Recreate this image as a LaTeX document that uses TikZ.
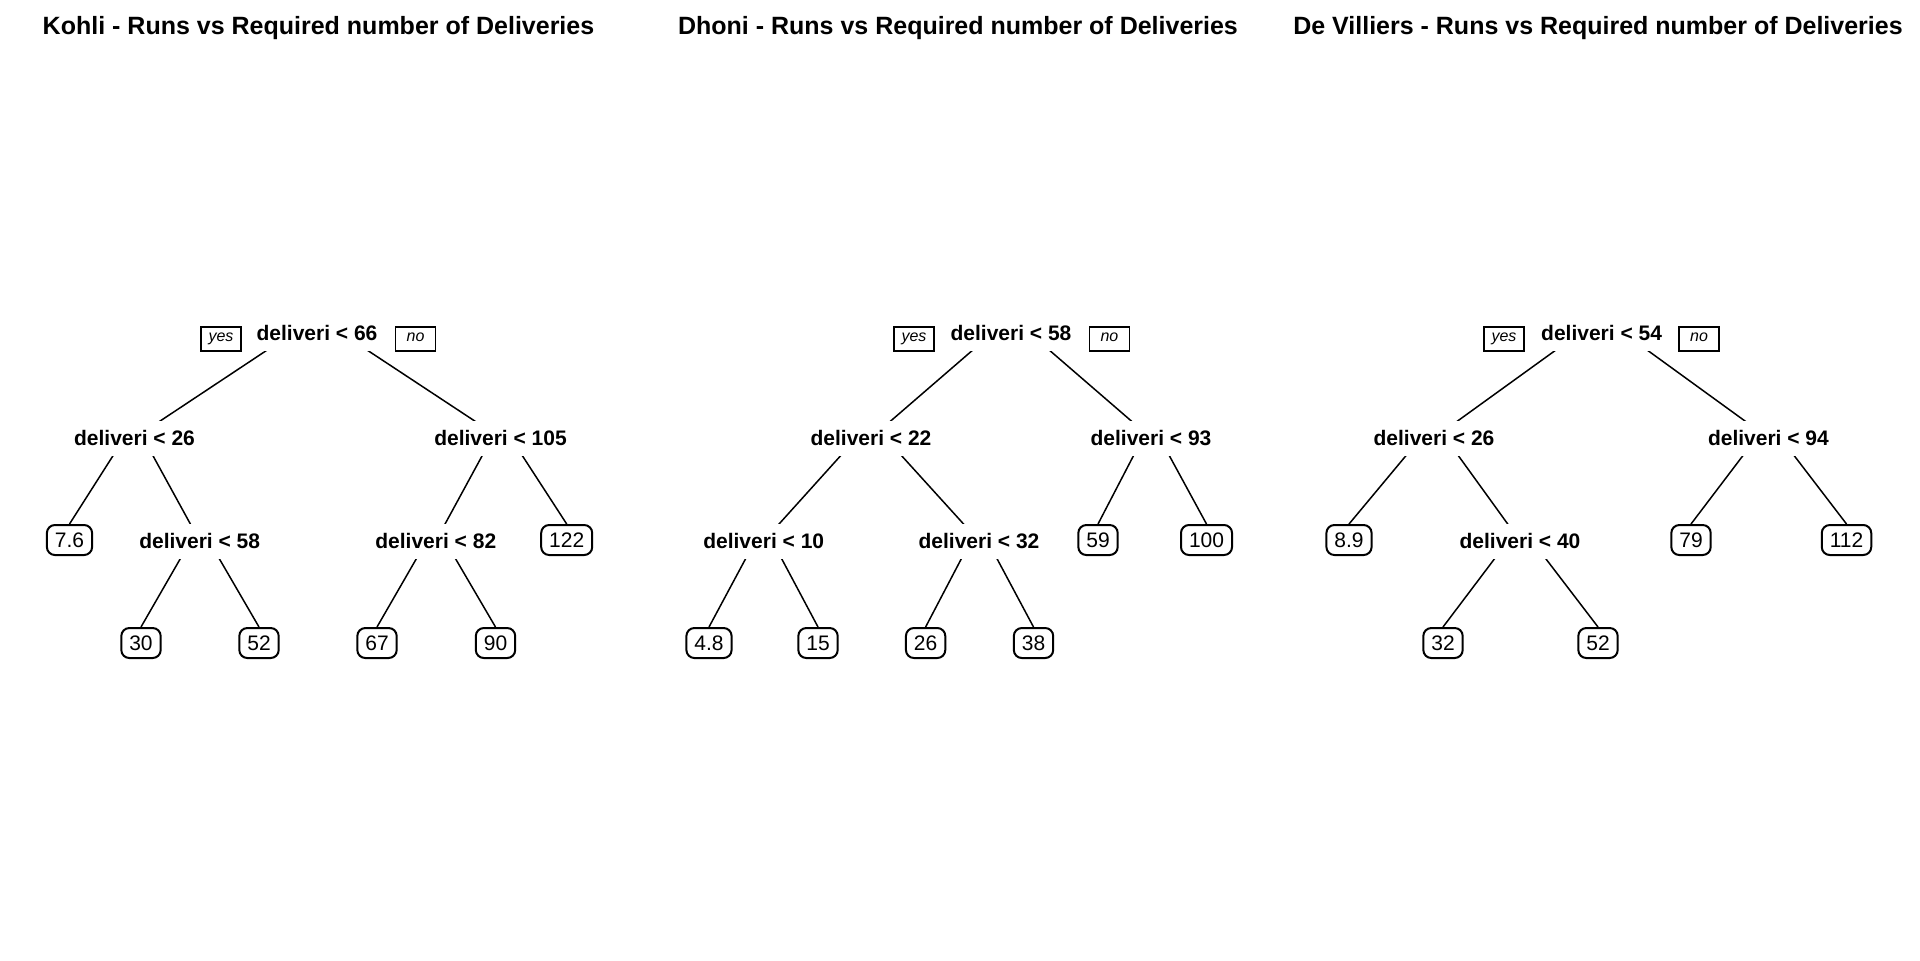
\documentclass[tikz,border=0pt]{standalone}
\usepackage{fontspec}
\setmainfont{Liberation Sans}
\usetikzlibrary{calc,backgrounds}
\tikzset{
  branch/.style={black,line width=0.75pt},
  splitlbl/.style={fill=white,font=\fontsize{10.5}{12}\selectfont\bfseries,
                   inner xsep=2pt,inner ysep=0pt,minimum height=17.5pt,
                   text height=7.5pt,text depth=0pt},
  leafbox/.style={draw=black,fill=white,line width=1pt,rounded corners=4pt,
                  font=\fontsize{10.5}{12}\selectfont,inner xsep=4pt,inner ysep=0pt,
                  minimum height=15pt,text height=7.5pt,text depth=0pt},
  tagbox/.style={draw=black,fill=white,line width=0.8pt,
                 font=\fontsize{8}{10}\selectfont\itshape,minimum width=20pt,
                 minimum height=12pt,inner sep=0pt,text height=4.2pt,text depth=1.7pt},
  plottitle/.style={font=\fontsize{12.5}{15}\selectfont\bfseries,anchor=base},
}
\begin{document}
\begin{tikzpicture}[x=0.5pt,y=-0.5pt]
  \useasboundingbox (0,0) rectangle (1920,960);
  % titles
  \node[plottitle] (ktitle) at (318.5,34) {Kohli - Runs vs Required number of Deliveries};
  \node[plottitle] (dtitle) at (958,34) {Dhoni - Runs vs Required number of Deliveries};
  \node[plottitle] (vtitle) at (1598,34) {De Villiers - Runs vs Required number of Deliveries};
  % Kohli
  \node[tagbox] (kyes) at (221,339) {yes};
  \node[splitlbl] (k66) at (317,333) {deliveri < 66};
  \node[tagbox] (kno) at (415.5,339) {no};
  \node[splitlbl] (k26) at (134.5,438) {deliveri < 26};
  \node[splitlbl] (k105) at (500.5,438) {deliveri < 105};
  \node[leafbox] (kl76) at (69.5,540) {7.6};
  \node[splitlbl] (k58) at (199.7,541) {deliveri < 58};
  \node[splitlbl] (k82) at (435.8,541) {deliveri < 82};
  \node[leafbox] (kl122) at (566.7,540) {122};
  \node[leafbox] (kl30) at (141,643) {30};
  \node[leafbox] (kl52) at (259,643) {52};
  \node[leafbox] (kl67) at (377,643) {67};
  \node[leafbox] (kl90) at (495.5,643) {90};
  % Dhoni
  \node[tagbox] (dyes) at (914,339) {yes};
  \node[splitlbl] (d58) at (1011,333) {deliveri < 58};
  \node[tagbox] (dno) at (1109.4,339) {no};
  \node[splitlbl] (d22) at (871,438) {deliveri < 22};
  \node[splitlbl] (d93) at (1151,438) {deliveri < 93};
  \node[splitlbl] (d10) at (763.7,541) {deliveri < 10};
  \node[splitlbl] (d32) at (979,541) {deliveri < 32};
  \node[leafbox] (dl59) at (1098,540) {59};
  \node[leafbox] (dl100) at (1206.5,540) {100};
  \node[leafbox] (dl48) at (709,643) {4.8};
  \node[leafbox] (dl15) at (818,643) {15};
  \node[leafbox] (dl26) at (925.6,643) {26};
  \node[leafbox] (dl38) at (1033.5,643) {38};
  % De Villiers
  \node[tagbox] (vyes) at (1504,339) {yes};
  \node[splitlbl] (v54) at (1601.6,333) {deliveri < 54};
  \node[tagbox] (vno) at (1699,339) {no};
  \node[splitlbl] (v26) at (1434,438) {deliveri < 26};
  \node[splitlbl] (v94) at (1768.4,438) {deliveri < 94};
  \node[leafbox] (vl89) at (1349,540) {8.9};
  \node[splitlbl] (v40) at (1520,541) {deliveri < 40};
  \node[leafbox] (vl79) at (1691,540) {79};
  \node[leafbox] (vl112) at (1846.5,540) {112};
  \node[leafbox] (vl32) at (1443,643) {32};
  \node[leafbox] (vl52) at (1598,643) {52};
  % branches, under the labels
  \begin{scope}[on background layer]
    \fill[white] (0,0) rectangle (1920,960);
    \draw[branch] ($(k66.center)+(0,-16)$) -- (k26.center);
    \draw[branch] ($(k66.center)+(0,-16)$) -- (k105.center);
    \draw[branch] ($(k26.center)+(0,-16)$) -- (kl76.north);
    \draw[branch] ($(k26.center)+(0,-16)$) -- (k58.center);
    \draw[branch] ($(k105.center)+(0,-16)$) -- (k82.center);
    \draw[branch] ($(k105.center)+(0,-16)$) -- (kl122.north);
    \draw[branch] ($(k58.center)+(0,-16)$) -- (kl30.north);
    \draw[branch] ($(k58.center)+(0,-16)$) -- (kl52.north);
    \draw[branch] ($(k82.center)+(0,-16)$) -- (kl67.north);
    \draw[branch] ($(k82.center)+(0,-16)$) -- (kl90.north);
    \draw[branch] ($(d58.center)+(0,-16)$) -- (d22.center);
    \draw[branch] ($(d58.center)+(0,-16)$) -- (d93.center);
    \draw[branch] ($(d22.center)+(0,-16)$) -- (d10.center);
    \draw[branch] ($(d22.center)+(0,-16)$) -- (d32.center);
    \draw[branch] ($(d93.center)+(0,-16)$) -- (dl59.north);
    \draw[branch] ($(d93.center)+(0,-16)$) -- (dl100.north);
    \draw[branch] ($(d10.center)+(0,-16)$) -- (dl48.north);
    \draw[branch] ($(d10.center)+(0,-16)$) -- (dl15.north);
    \draw[branch] ($(d32.center)+(0,-16)$) -- (dl26.north);
    \draw[branch] ($(d32.center)+(0,-16)$) -- (dl38.north);
    \draw[branch] ($(v54.center)+(0,-16)$) -- (v26.center);
    \draw[branch] ($(v54.center)+(0,-16)$) -- (v94.center);
    \draw[branch] ($(v26.center)+(0,-16)$) -- (vl89.north);
    \draw[branch] ($(v26.center)+(0,-16)$) -- (v40.center);
    \draw[branch] ($(v94.center)+(0,-16)$) -- (vl79.north);
    \draw[branch] ($(v94.center)+(0,-16)$) -- (vl112.north);
    \draw[branch] ($(v40.center)+(0,-16)$) -- (vl32.north);
    \draw[branch] ($(v40.center)+(0,-16)$) -- (vl52.north);
  \end{scope}
\end{tikzpicture}
\end{document}
